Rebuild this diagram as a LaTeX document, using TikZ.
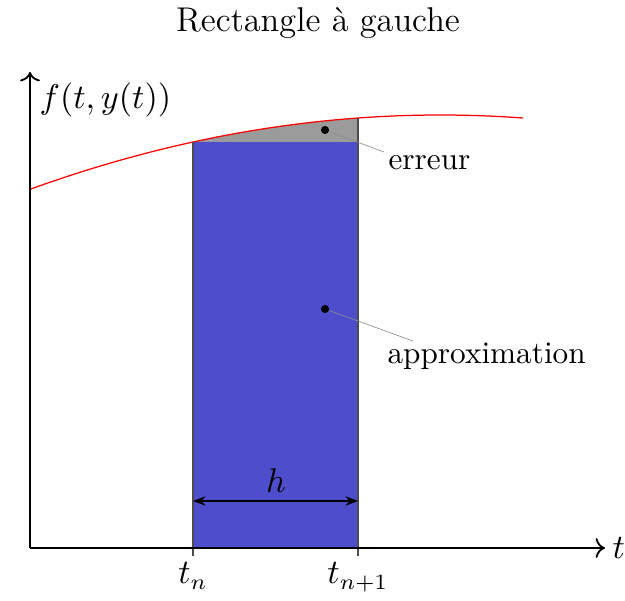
\documentclass[tikz,border=0pt]{standalone}
\usepackage{fontspec}
\usetikzlibrary{arrows.meta}
\definecolor{rectblue}{RGB}{78,78,204}
\definecolor{errgray}{RGB}{155,155,155}
\begin{document}
\begin{tikzpicture}[x=0.32pt,y=-0.32pt,
  declare function={F(\x)=115+(0.021*(\x-440.5))^2;},
  axis/.style={semithick,-{To[length=3pt]}},
  edge/.style={thin,black!70},
  dotmark/.style={circle,fill=black,inner sep=0pt,minimum size=2.6pt},
  leader/.style={black!45,very thin},
  lbl/.style={font=\fontsize{10.5}{12}\selectfont},
  txt/.style={font=\fontsize{10}{12}\selectfont}]
\useasboundingbox (0,0) rectangle (625,600);
% filled regions
\fill[errgray] (193,142) -- plot[domain=193:358,samples=30] (\x,{F(\x)}) -- (358,142) -- cycle;
\fill[rectblue] (193,142) rectangle (358,548);
% curve
\draw[red,thin] plot[domain=30:523,samples=80] (\x,{F(\x)});
% vertical edges with ticks
\coordinate (tn) at (193,556);
\coordinate (tn1) at (358,556);
\coordinate (tntop) at (193,142);
\coordinate (tn1top) at (358,118);
\draw[edge] (tn) -- (tntop);
\draw[edge] (tn1) -- (tn1top);
% axes
\coordinate (O) at (30,548);
\coordinate (Xend) at (605,548);
\coordinate (Yend) at (30,72);
\draw[axis] (O) -- (Xend);
\draw[axis] (O) -- (Yend);
\node[lbl,anchor=west,inner sep=0pt] (tlab) at (612,548) {$t$};
\node[lbl,anchor=west,inner sep=0pt] (ylab) at (39,100) {$f(t,y(t))$};
\node[lbl,anchor=north,inner sep=2pt] (tnlab) at (tn) {$t_n$};
\node[lbl,anchor=north,inner sep=2pt] (tn1lab) at (tn1) {$t_{n+1}$};
% h dimension
\coordinate (hl) at (193,501);
\coordinate (hr) at (358,501);
\draw[thin,{Stealth[length=4pt]}-{Stealth[length=4pt]}] (hl) -- (hr);
\node[lbl] (hlab) at (276,481) {$h$};
% markers and labels
\node[dotmark] (errdot) at (325,130) {};
\node[dotmark] (apxdot) at (325,309) {};
\node[txt,anchor=west,inner sep=0pt] (errlab) at (388,163) {erreur};
\node[txt,anchor=west,inner sep=0pt] (apxlab) at (387,356) {approximation};
\coordinate (errend) at (384,152);
\coordinate (apxend) at (413,341);
\draw[leader] (errdot) -- (errend);
\draw[leader] (apxdot) -- (apxend);
% title
\node[font=\fontsize{11}{13}\selectfont] (title) at (318,23) {Rectangle à gauche};
\end{tikzpicture}
\end{document}
